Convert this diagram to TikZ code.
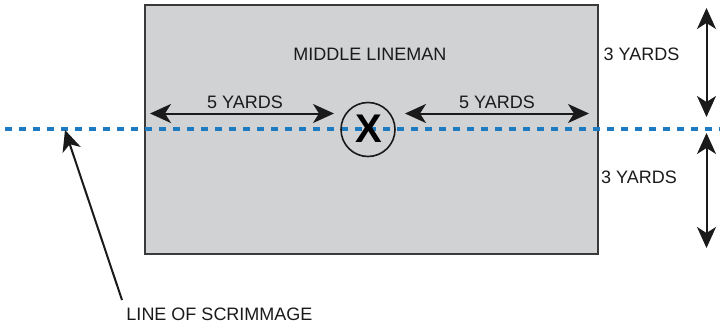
\documentclass[tikz,border=0pt]{standalone}
\usepackage{fontspec}
\setmainfont{Liberation Sans}
\usetikzlibrary{arrows.meta}
\definecolor{boxfill}{HTML}{D1D2D4}
\definecolor{boxline}{HTML}{3A3A3A}
\definecolor{scrim}{HTML}{1F7BC1}
\definecolor{ink}{HTML}{1A1A1A}
\tikzset{
  lbl/.style={font=\fontsize{18}{18}\selectfont, text=ink, inner sep=0pt, anchor=base},
  tip/.style={Stealth[length=21pt,width=19pt,inset=6pt]},
  dimarrow/.style={draw=ink, line width=2pt, {Stealth[length=21pt,width=19pt,inset=6pt]}-{Stealth[length=21pt,width=19pt,inset=6pt]}},
  ptrarrow/.style={draw=ink, line width=2pt, -{Stealth[length=21pt,width=19pt,inset=6pt]}},
}
\begin{document}
\begin{tikzpicture}[x=1pt,y=-1pt]
\useasboundingbox (0,0) rectangle (720,329);
% box
\node[draw=boxline, fill=boxfill, line width=2pt, minimum width=453pt, minimum height=248pt, inner sep=0pt, anchor=north west] (box) at (143.5,4.5) {};
% line of scrimmage
\coordinate (los1) at (5,128.5);
\coordinate (los2) at (720,128.5);
\draw[scrim, line width=4pt, dash pattern=on 7pt off 7pt] (los1) -- (los2);
% player
\node[draw=ink, circle, line width=1.6pt, minimum size=54pt, inner sep=0pt] (player) at (368,129.5) {};
\node[font=\fontsize{40}{40}\bfseries\selectfont, text=black, inner sep=0pt] (x) at (368.5,128.5) {X};
% labels
\node[lbl] (ml) at (370,61) {MIDDLE LINEMAN};
\node[lbl] (l5) at (245,108) {5 YARDS};
\node[lbl] (r5) at (497,108) {5 YARDS};
\node[lbl] (t3) at (641.5,60) {3 YARDS};
\node[lbl] (b3) at (639,183) {3 YARDS};
\node[lbl] (los) at (219.5,320) {LINE OF SCRIMMAGE};
% horizontal arrows
\coordinate (la) at (150,113.5);
\coordinate (lb) at (334,113.5);
\coordinate (ra) at (405,113.5);
\coordinate (rb) at (589,113.5);
\draw[dimarrow] (la) -- (lb);
\draw[dimarrow] (ra) -- (rb);
% vertical arrows
\coordinate (ta) at (706.5,8);
\coordinate (tb) at (706.5,117);
\coordinate (ba) at (706.5,133);
\coordinate (bb) at (706.5,248);
\draw[dimarrow] (ta) -- (tb);
\draw[dimarrow] (ba) -- (bb);
% pointer
\coordinate (ptail) at (122,300);
\coordinate (ptip) at (65,130);
\draw[ptrarrow] (ptail) -- (ptip);
\end{tikzpicture}
\end{document}
